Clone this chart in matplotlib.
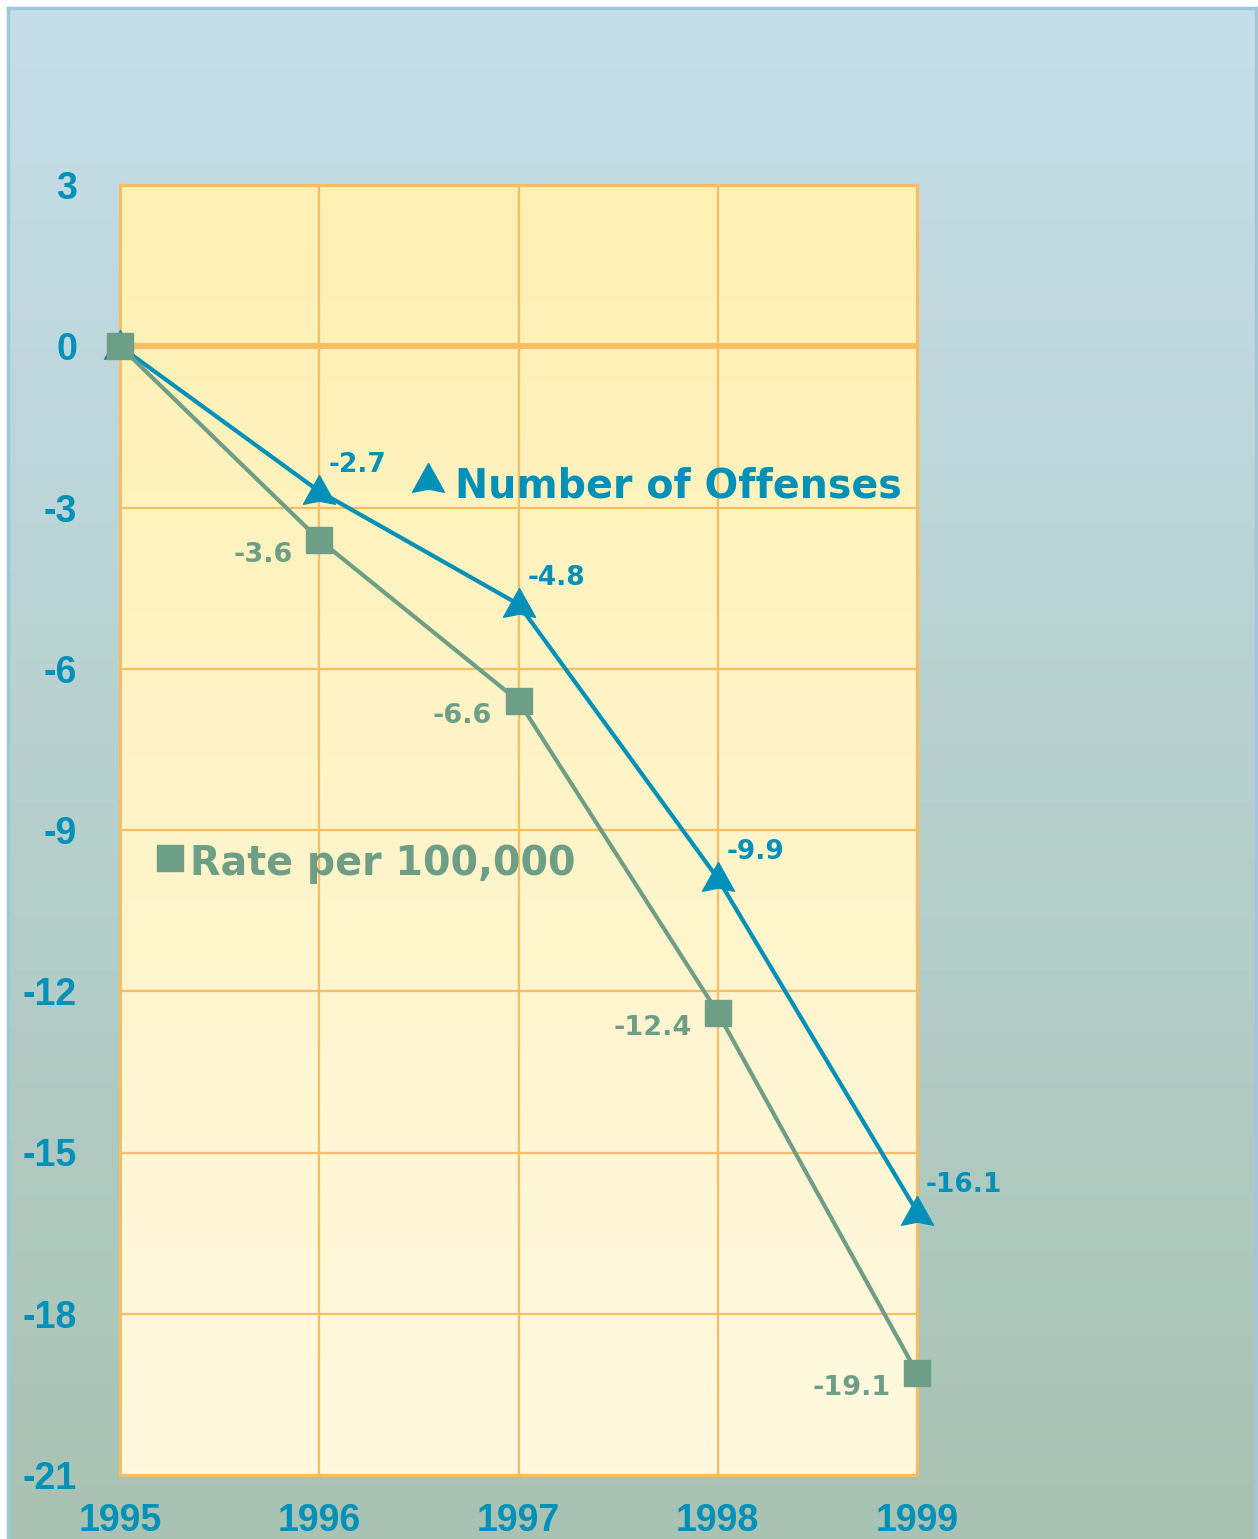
import numpy as np
import matplotlib
matplotlib.use('Agg')
import matplotlib.pyplot as plt
from matplotlib.path import Path

years = [1995, 1996, 1997, 1998, 1999]
offenses = [0, -2.7, -4.8, -9.9, -16.1]
rate = [0, -3.6, -6.6, -12.4, -19.1]
offense_labels = ['', '-2.7', '-4.8', '-9.9', '-16.1']
rate_labels = ['', '-3.6', '-6.6', '-12.4', '-19.1']
yticks = [3, 0, -3, -6, -9, -12, -15, -18, -21]

blue = '#0090b8'
green = '#6e9e86'
orange = '#f6bd62'

plt.rcParams['font.family'] = ['Liberation Sans', 'DejaVu Sans']
plt.rcParams['font.weight'] = 'bold'
plt.rcParams['axes.unicode_minus'] = False
label_font = ['DejaVu Sans']

fig = plt.figure(figsize=(12.58, 15.39), dpi=100, facecolor='white')

# background panel with vertical gradient
bg = fig.add_axes([8 / 1258, 0, 1248 / 1258, 1 - 8 / 1539])
grad = np.linspace(0, 1, 256).reshape(-1, 1)
top_c = np.array([0xc6, 0xde, 0xe9]) / 255
bot_c = np.array([0xa8, 0xc3, 0xb3]) / 255
img = top_c + (bot_c - top_c) * grad[..., None]
bg.imshow(img.reshape(256, 1, 3), aspect='auto', extent=[0, 1, 0, 1])
bg.set_xticks([])
bg.set_yticks([])
for s in ['top', 'left', 'right']:
    bg.spines[s].set_color('#9ec8da')
    bg.spines[s].set_linewidth(2.5)
bg.spines['bottom'].set_visible(False)

ax = fig.add_axes([120 / 1258, 1 - 1475 / 1539, 797 / 1258, 1290 / 1539])
ax.set_xlim(1995, 1999)
ax.set_ylim(-21, 3)

# plot area gradient
ptop = np.array([0xfe, 0xf0, 0xb2]) / 255
pbot = np.array([0xff, 0xf9, 0xe0]) / 255
pimg = ptop + (pbot - ptop) * grad[..., None]
ax.imshow(pimg.reshape(256, 1, 3), aspect='auto', extent=[1995, 1999, -21, 3], zorder=0)

ax.set_xticks(years)
ax.set_yticks(yticks)
ax.grid(True, color=orange, linewidth=1.6, zorder=1)
ax.axhline(0, color=orange, linewidth=4.2, zorder=1.5)
for s in ax.spines.values():
    s.set_color(orange)
    s.set_linewidth(2.2)
ax.tick_params(length=0)
ax.tick_params(axis='y', pad=31, labelsize=27, labelcolor=blue)
ax.tick_params(axis='x', pad=20, labelsize=27, labelcolor=blue)

# arrowhead-like triangle marker
tri = Path([(0, 1), (1, -0.8), (0, -0.6), (-1, -0.8), (0, 1)],
           [Path.MOVETO, Path.LINETO, Path.LINETO, Path.LINETO, Path.CLOSEPOLY])

ax.plot(years, offenses, color=blue, linewidth=3, marker=tri, markersize=23,
        zorder=3, clip_on=False)
ax.plot(years, rate, color=green, linewidth=3, marker='s', markersize=19,
        zorder=4, clip_on=False)

for x, y, t in zip(years, offenses, offense_labels):
    ax.annotate(t, (x, y), xytext=(6.5, 14), textcoords='offset points',
                ha='left', va='baseline', color=blue, fontsize=19,
                fontweight='bold', family=label_font)
for x, y, t in zip(years, rate, rate_labels):
    ax.annotate(t, (x, y), xytext=(-19, -16), textcoords='offset points',
                ha='right', va='baseline', color=green, fontsize=19.5,
                fontweight='bold', family=label_font)

# in-plot legend labels
ax.plot([0.3865], [0.772], transform=ax.transAxes, marker=tri, markersize=23,
        color=blue, linestyle='none', zorder=5)
ax.text(0.42, 0.7581, 'Number of Offenses', transform=ax.transAxes, color=blue,
        fontsize=28.5, fontweight='bold', va='baseline', ha='left', zorder=5,
        family=label_font)
ax.plot([0.0627], [0.478], transform=ax.transAxes, marker='s', markersize=19,
        color=green, linestyle='none', zorder=5)
ax.text(0.0878, 0.4651, 'Rate per 100,000', transform=ax.transAxes, color=green,
        fontsize=28.5, fontweight='bold', va='baseline', ha='left', zorder=5,
        family=label_font)

fig.savefig('out.png', dpi=100, facecolor=fig.get_facecolor())
